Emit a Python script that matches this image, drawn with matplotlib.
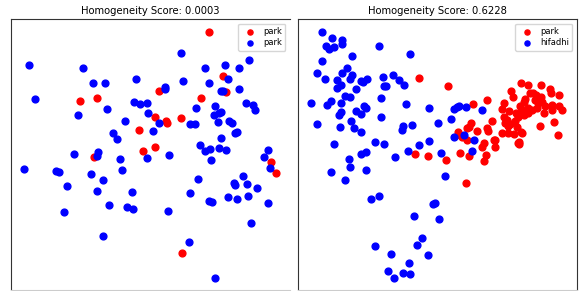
import matplotlib
matplotlib.use("Agg")
import matplotlib.pyplot as plt
import numpy as np

# embedding coordinates (arbitrary units, y grows downward)
left_red_x = [80, 96.7, 139, 143, 209.3, 222.7, 159, 226, 201, 155.3, 166, 167.3,
              180.7, 155.3, 94, 271, 276, 182]
left_red_y = [100.7, 97.7, 130, 151, 32, 76, 91, 92, 97.7, 117, 120.7, 123.3,
              118.3, 147, 156.7, 162, 173.3, 252.7]
left_blue_x = [28.7, 83.3, 92.7, 105, 135.7, 35.3, 106.7, 134, 140, 146.7, 147.7, 77.7,
               125, 113.3, 116.7, 180.7, 248.7, 224.7, 205.3, 238.7, 228, 183, 208.7,
               165.3, 164.7, 239.3, 221, 223.3, 246, 252.7, 215.3, 196.3, 254.7, 221,
               218.7, 214.3, 158.7, 190, 195.3, 217.7, 228.7, 232, 236.7, 235, 152.7,
               221.3, 200, 209.7, 205.3, 219.3, 267.7, 73.7, 96.7, 98.3, 146.7, 120,
               23.7, 55.7, 58.7, 121.7, 91, 103.3, 67, 96.7, 132.3, 109, 127, 132.7,
               63.7, 103.3, 169, 226.3, 211, 264.3, 270, 243.3, 234, 234.7, 246.7,
               256.7, 198, 190.3, 209.3, 212.3, 227.7, 237, 247.7, 268.3, 168.3, 251,
               189, 215.3]
left_blue_y = [65, 68.3, 83.3, 82.7, 78.7, 99.3, 109.3, 101.7, 104.3, 102.7, 112.7, 115,
               120.7, 133.3, 139.3, 52.7, 60.3, 65.3, 67.7, 67.7, 79.3, 81, 83.3,
               86.7, 88.7, 89.3, 91, 90.7, 103.3, 104.7, 106, 107.7, 110.3, 112,
               113.3, 115, 122.7, 124.3, 124.3, 122, 120.7, 122.7, 132, 133.3, 131,
               138.3, 145, 148.7, 151, 148.3, 150.3, 154.3, 156, 152, 157.5, 159.3,
               168.7, 171, 172, 170, 174.3, 180.3, 186, 191, 192, 205.3, 206.7, 208.7,
               211.7, 236, 155, 150.3, 160.3, 156.7, 167.7, 176, 182.7, 185, 184.3,
               187.7, 179.3, 193.3, 200.7, 202, 197, 199.3, 196, 203.3, 211, 222.7,
               241.7, 278.3]

right_red_x = [419.3, 447.7, 520.7, 528.3, 541.3, 550, 550.7, 510.7, 513.3, 530.3, 532.7,
               536.3, 541, 559, 525.3, 523.7, 487.3, 504, 535, 538.3, 542.3, 545, 552,
               559, 561.7, 473.3, 502.3, 508.7, 520, 522.3, 528.3, 531.7, 536.7, 543.7,
               551.7, 516, 518.3, 524.3, 528.3, 504, 506.7, 505, 510, 491.7, 515, 517,
               470.7, 469, 467.3, 507.7, 540, 554.3, 487.3, 488.3, 477, 458.3, 460,
               461.7, 502, 507.7, 520.7, 522.3, 514, 558, 495, 518.7, 519.3, 467.3,
               484, 481.7, 494.3, 495, 518.3, 460, 469.3, 485.7, 484, 446, 466, 415.3,
               427.7]
right_red_y = [77.7, 86, 82.7, 85.3, 85.3, 88.7, 92.7, 91, 97, 92.7, 93.3,
               95, 96.7, 95.3, 99.3, 102, 100, 103.3, 100, 103.3, 101.7, 106, 105.3,
               106, 110, 104.3, 109.3, 111, 106, 110, 108.3, 110, 108.3, 113.3,
               110, 113.3, 116.7, 115, 113.3, 116.7, 120, 123.3, 124, 121, 121, 126.7,
               123.3, 126.7, 128.3, 126, 126, 122, 128.3, 131.3, 130.7, 131.7, 135,
               136.7, 132.7, 132.7, 131.7, 133.3, 134.3, 135, 140, 144, 142.3, 140,
               143.3, 146.7, 140, 147.3, 143.3, 153.3, 155.7, 155, 161, 160, 182.7, 154.3,
               156]
right_blue_x = [322.3, 331.7, 342.3, 341.7, 326.3, 329.3, 334, 379, 410.3, 352.3, 322.3,
                347.3, 316.7, 342.3, 352.3, 350, 325, 337.3, 360.7, 363.3, 366.7, 383,
                392.7, 399, 404.3, 340.7, 337.3, 383.7, 386.3, 356.3, 345.3, 350.3, 381,
                310.7, 330.7, 326.7, 340.7, 406.3, 364.3, 366, 356.3, 361.3, 340.7, 339,
                429.3, 381, 350.7, 316.7, 340, 354, 361.3, 403, 402.3, 411.7, 438.3,
                334, 375.3, 384.3, 419.3, 429.3, 408, 454, 457.3, 459.3, 466.3, 481.7,
                450.7, 464, 454, 474, 471.7, 441, 445, 435, 439.3, 395, 360.7, 366,
                349, 350, 330.7, 366, 345, 371.3, 378.7, 432.7, 413.7, 422, 417, 375.3,
                391, 427.7, 408.7, 388, 402.7, 409.7, 393.7]
right_blue_y = [32, 37.7, 40, 44.3, 46, 49.3, 46.7, 46, 54, 56, 61,
                67.7, 72.7, 72.7, 75, 79.3, 79.3, 80.3, 81, 82, 79, 77,
                75.3, 80.3, 84.7, 85.3, 87.7, 86, 86, 89.3, 95.7, 97.3, 97.7,
                103.3, 100.7, 105.3, 103.3, 104.3, 106, 108.3, 111, 114.3, 112.3, 115,
                108.3, 116.7, 120.7, 124.3, 126.7, 127.7, 131.7, 126, 130, 125, 122.7,
                144, 142, 144, 145.3, 140.5, 151, 108.7, 107, 106, 107, 110,
                118.7, 135, 137.3, 140, 150.5, 152.7, 175.7, 203.3, 218.7, 156.7, 153.7, 152,
                159.3, 167, 172, 170.3, 180.3, 198.7, 196, 203.7, 216, 238.3, 245.3, 246,
                254.3, 255.3, 263.3, 271, 272.7, 274.3, 278.3]

panels = [
    ("Homogeneity Score: 0.0003", left_red_x, left_red_y, left_blue_x, left_blue_y,
     ["park", "park"], (11, 289.5)),
    ("Homogeneity Score: 0.6228", right_red_x, right_red_y, right_blue_x, right_blue_y,
     ["park", "hifadhi"], (298.3, 576.5)),
]

fig = plt.figure(figsize=(5.83, 2.91), dpi=100)
axes_boxes = [[0.0189, 0.0034, 0.4777, 0.930], [0.5117, 0.0034, 0.4772, 0.930]]

for i, (box, (title, rx, ry, bx, by, labels, xlim)) in enumerate(zip(axes_boxes, panels)):
    ax = fig.add_axes(box)
    ax.scatter(rx, ry, c="red", s=24, label=labels[0])
    ax.scatter(bx, by, c="blue", s=24, label=labels[1])
    ax.set_xlim(*xlim)
    ax.set_ylim(290, 19.3)
    ax.set_xticks([])
    ax.set_yticks([])
    for sp in ax.spines.values():
        sp.set_linewidth(0.8)
        sp.set_color("#333333")
    ax.spines["bottom"].set_color("#cccccc")
    if i == 0:
        ax.spines["right"].set_visible(False)
    ax.set_title(title, fontsize=7.2, pad=4)
    ax.legend(loc="upper right", fontsize=6, borderpad=0.4, handletextpad=0.6,
              labelspacing=0.3, markerscale=0.75)

fig.savefig("out.png", dpi=100)
